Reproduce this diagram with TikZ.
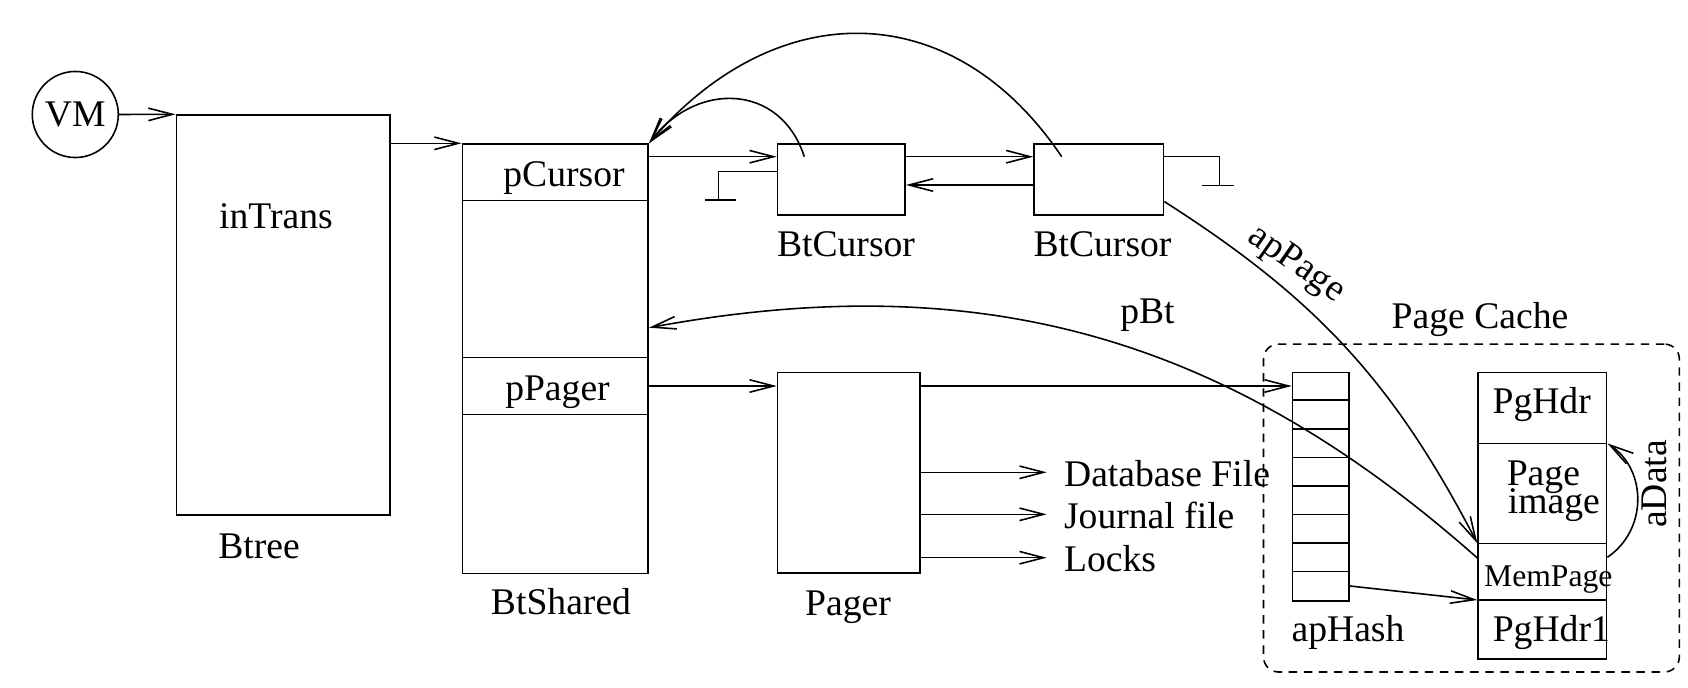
\documentclass[tikz,border=0pt]{standalone}
\usepackage{fontspec}
\setmainfont{Liberation Serif}
\usetikzlibrary{arrows.meta,calc}

\begin{document}
\begin{tikzpicture}[x=0.01cm, y=-0.01cm, line width=0.45pt,
  every node/.style={font=\fontsize{10.7}{12}\selectfont},
  box/.style={draw, rectangle, anchor=north west, inner sep=0pt},
  lbl/.style={anchor=base, inner sep=0pt},
  arr/.style={-{Straight Barb[length=2.4mm,width=1.25mm]}}]
  \useasboundingbox (0,0) rectangle (1688,688);

  \node[circle, draw, minimum size=0.86cm, inner sep=0pt] (vm) at (75.3,114.5) {VM};
  \node[box, minimum width=2.138cm, minimum height=3.997cm] (btree) at (175.5,114.3) {};
  \node[box, minimum width=1.858cm, minimum height=4.29cm] (bsh) at (461.5,143.3) {};
  \node[box, minimum width=1.276cm, minimum height=0.707cm] (cur1) at (776.7,143.3) {};
  \node[box, minimum width=1.294cm, minimum height=0.707cm] (cur2) at (1033.3,143.3) {};
  \node[box, minimum width=1.426cm, minimum height=2.003cm] (pager) at (776.7,371.7) {};
  \node[box, minimum width=0.566cm, minimum height=2.283cm] (hash) at (1291.7,371.7) {};
  \node[box, minimum width=1.284cm, minimum height=2.866cm] (pg) at (1477.3,371.7) {};
  \node[box, dash pattern=on 2.4pt off 1.9pt, rounded corners=0.15cm,
    minimum width=4.156cm, minimum height=3.277cm] (cache) at (1262.7,343.3) {};

  \foreach \y in {200.7,357.3,414.3}
    \draw (bsh.west |- 0,\y) -- (bsh.east |- 0,\y);
  \foreach \k in {1,...,7}
    \draw ($(hash.north west)+(0,\k*28.54)$) -- ($(hash.north east)+(0,\k*28.54)$);
  \foreach \y in {443.3,543.3,600}
    \draw (pg.west |- 0,\y) -- (pg.east |- 0,\y);

  \node[lbl] (lintrans) at (276,228.3) {inTrans};
  \node[lbl] (lbtree) at (259,558) {Btree};
  \node[lbl] (lpcursor) at (564,187) {pCursor};
  \node[lbl] (lppager) at (557.5,400) {pPager};
  \node[lbl] (lbtshared) at (561,614.3) {BtShared};
  \node[lbl] (lcur1) at (846,256.7) {BtCursor};
  \node[lbl] (lcur2) at (1102.5,256.7) {BtCursor};
  \node[lbl] (lpager) at (848,615) {Pager};
  \node[lbl, anchor=base west] (ldb) at (1063.3,486) {Database File};
  \node[lbl, anchor=base west] (ljournal) at (1063.3,528.3) {Journal file};
  \node[lbl, anchor=base west] (llocks) at (1063.3,571.7) {Locks};
  \node[lbl] (lpbt) at (1147.5,323.5) {pBt};
  \node[rotate=-35, inner sep=0pt] (lappage) at (1296,265) {apPage};
  \node[lbl] (lcache) at (1480,328.3) {Page Cache};
  \node[lbl] (lhash) at (1348,641.7) {apHash};
  \node[lbl] (lpghdr) at (1541.7,413.3) {PgHdr};
  \node[lbl, anchor=base west] (limg1) at (1506,485) {Page};
  \node[lbl, anchor=base west] (limg2) at (1507,513.3) {image};
  \node[lbl, anchor=base west, font=\fontsize{9}{10}\selectfont] (lmempage) at (1483.3,586) {MemPage};
  \node[lbl, anchor=base west] (lpghdr1) at (1492,641.7) {PgHdr1};
  \node[rotate=90, inner sep=0pt] (ladata) at (1654,484) {aData};

  \coordinate (fwd) at ($(cur1.north west)+(0,13.4)$);
  \coordinate (bwd) at ($(cur1.north east)+(0,41.7)$);
  \coordinate (gnd1) at (718.3,200);
  \coordinate (gnd2) at (1219.3,185.3);
  \coordinate (c1out) at ($(cur1.north west)+(27.6,13.4)$);
  \coordinate (c2out) at ($(cur2.north west)+(28.4,13.4)$);
  \coordinate (apout) at ($(cur2.south east)+(0,-14)$);
  \coordinate (memtop) at (pg.west |- 0,543.3);
  \coordinate (memin) at ($(memtop)+(0,14.7)$);
  \coordinate (slot1) at ($(hash.north west)+(0,14.3)$);

  \draw[arr] (vm.east) -- (btree.north west);
  \draw[arr] (btree.east |- bsh.north) -- (bsh.north west);
  \draw[arr] (bsh.east |- fwd) -- (fwd);
  \draw[arr] (cur1.east |- fwd) -- (cur2.west |- fwd);
  \draw[arr] (cur2.west |- bwd) -- (bwd);
  \draw (cur1.west |- 0,171.7) -| (gnd1) ++(-13.3,0) -- ++(31,0);
  \draw (cur2.east |- fwd) -| (gnd2) ++(-17.6,0) -- ++(32.6,0);
  \draw[arr] (c1out) .. controls +(-24,-74) and +(47,-62) .. (bsh.north east);
  \draw[arr] (c2out) .. controls +(-109,-162) and +(127,-148) .. (bsh.north east);
  \draw[arr] (apout) to[bend left=15] (memtop);
  \draw[arr] (memin) to[bend right=26] (bsh.east |- 0,327.7);
  \draw[arr] (bsh.east |- 0,386) -- (pager.west |- 0,386);
  \draw[arr] (pager.east |- slot1) -- (slot1);
  \foreach \y/\n in {472.3/ldb,514.3/ljournal,557.7/llocks}
    \draw[arr, shorten >=0.166cm] (pager.east |- 0,\y) -- (\n.west |- 0,\y);
  \draw[arr] (hash.east |- 0,586) -- (pg.west |- 0,600);
  \draw[arr] (pg.east |- 0,557.3) .. controls +(40,-27) and +(40,27) .. (pg.east |- 0,443.3);
\end{tikzpicture}
\end{document}
